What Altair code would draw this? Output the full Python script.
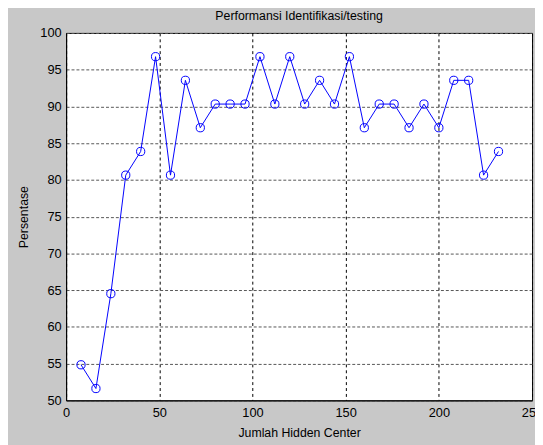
import altair as alt
import pandas as pd

hidden_center = [8, 16, 24, 32, 40, 48, 56, 64, 72, 80, 88, 96, 104, 112, 120,
                 128, 136, 144, 152, 160, 168, 176, 184, 192, 200, 208, 216, 224, 232]
persentase = [54.84, 51.61, 64.52, 80.65, 83.87, 96.77, 80.65, 93.55, 87.10, 90.32,
              90.32, 90.32, 96.77, 90.32, 96.77, 90.32, 93.55, 90.32, 96.77, 87.10,
              90.32, 90.32, 87.10, 90.32, 87.10, 93.55, 93.55, 80.65, 83.87]
x_ticks = [0, 50, 100, 150, 200, 250]
y_ticks = [50, 55, 60, 65, 70, 75, 80, 85, 90, 95, 100]

df = pd.DataFrame({"x": hidden_center, "y": persentase})

FONT = "Liberation Sans"

x_enc = alt.X("x:Q",
              scale=alt.Scale(domain=[0, 250], nice=False, zero=False),
              axis=alt.Axis(values=x_ticks, title="Jumlah Hidden Center",
                            grid=True, gridColor="#000000", gridDash=[3, 3],
                            gridWidth=1, gridOpacity=1,
                            ticks=False, labelPadding=6, titlePadding=8,
                            domainColor="#000000", labelFlush=False))
y_enc = alt.Y("y:Q",
              scale=alt.Scale(domain=[50, 100], nice=False, zero=False),
              axis=alt.Axis(values=y_ticks, title="Persentase",
                            grid=True, gridColor="#555555", gridDash=[3, 2],
                            gridWidth=1, gridOpacity=1,
                            ticks=False, labelPadding=5, titlePadding=9,
                            domainColor="#000000", labelFlush=False))

base = alt.Chart(df).encode(x=x_enc, y=y_enc)

line = base.mark_line(color="#0000ff", strokeWidth=1)
pts = base.mark_point(shape="circle", filled=False, color="#0000ff",
                      size=70, strokeWidth=1, opacity=1)

chart = (line + pts).properties(
    width=473,
    height=373,
    title=alt.TitleParams("Performansi Identifikasi/testing", fontSize=12.5,
                          font=FONT, fontWeight="normal", color="#000000",
                          anchor="middle", offset=5),
    background="#c8c8c8",
    autosize=alt.AutoSizeParams(type="none"),
    padding={"left": 59, "top": 22, "right": 3, "bottom": 42},
).configure_view(
    fill="#ffffff", stroke="#000000", strokeWidth=1
).configure_axis(
    labelFont=FONT, titleFont=FONT, labelFontSize=13, titleFontSize=12.5,
    titleFontWeight="normal", labelColor="#000000", titleColor="#000000"
)

chart.save("out.html", embed_options={"renderer": "svg", "actions": False})
